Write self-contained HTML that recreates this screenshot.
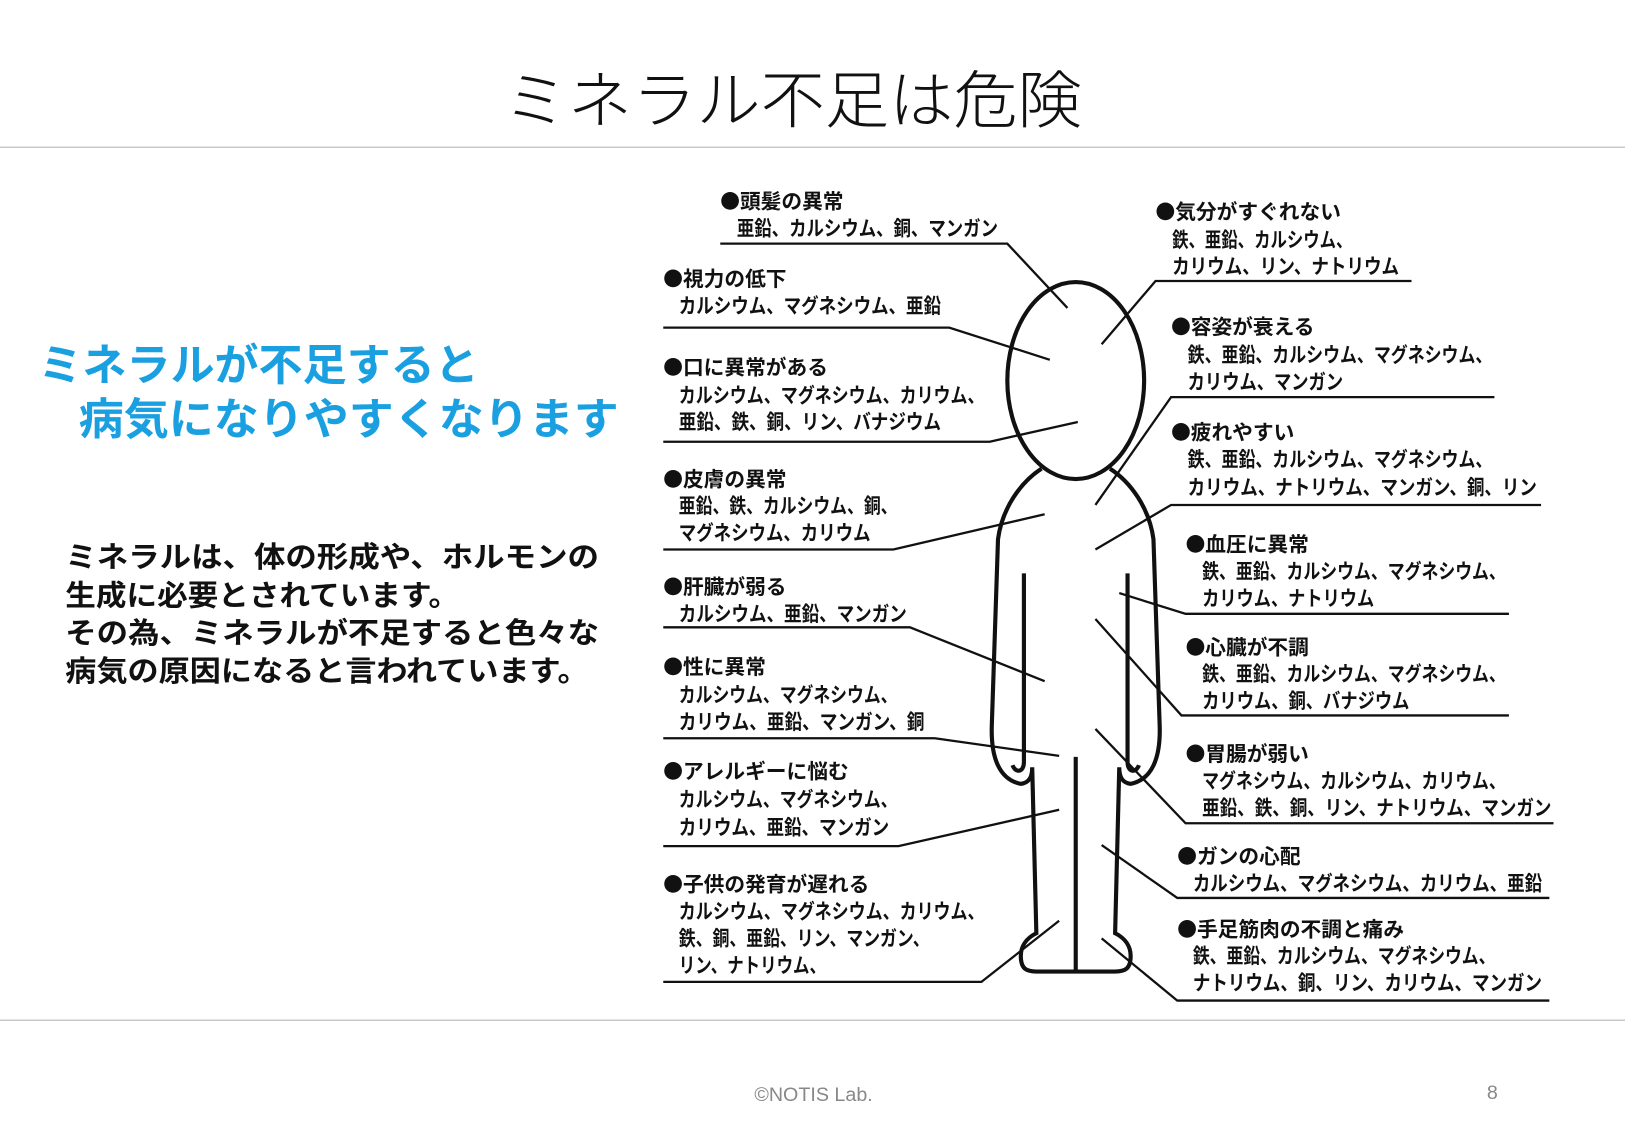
<!DOCTYPE html>
<html><head><meta charset="utf-8"><style>
html,body{margin:0;padding:0;background:#fff;}
svg{display:block;}
text{font-family:"Liberation Sans","Noto Sans CJK JP",sans-serif;}
.l{font-size:20px;font-weight:bold;fill:#111;}
.b{font-family:"Noto Sans CJK JP",sans-serif;font-size:19px;}
</style></head><body>
<svg width="1625" height="1125" viewBox="0 0 1568 1085" preserveAspectRatio="none" xmlns="http://www.w3.org/2000/svg">
<rect width="1568" height="1085" fill="#fff"/>
<text x="765" y="118" text-anchor="middle" font-size="60" fill="#111" textLength="558" lengthAdjust="spacingAndGlyphs" style="font-family:'Noto Sans CJK JP',sans-serif;font-weight:300">ミネラル不足は危険</text>
<line x1="0" y1="142" x2="1568" y2="142" stroke="#c8c8c8" stroke-width="1.5"/>
<line x1="0" y1="984" x2="1568" y2="984" stroke="#c8c8c8" stroke-width="1.5"/>
<text x="785" y="1062" text-anchor="middle" font-size="19" fill="#888">©NOTIS Lab.</text>
<text x="1440" y="1060" text-anchor="middle" font-size="19" fill="#888">8</text>

<g font-weight="bold" fill="#1aa0e0" font-size="42">
<text x="37" y="367" textLength="425" lengthAdjust="spacingAndGlyphs">ミネラルが不足すると</text>
<text x="76" y="419" textLength="521" lengthAdjust="spacingAndGlyphs">病気になりやすくなります</text>
</g>
<g font-weight="bold" fill="#111" font-size="28">
<text x="63" y="547" textLength="515" lengthAdjust="spacingAndGlyphs">ミネラルは、体の形成や、ホルモンの</text>
<text x="63" y="584" textLength="380" lengthAdjust="spacingAndGlyphs">生成に必要とされています。</text>
<text x="63" y="620" textLength="515" lengthAdjust="spacingAndGlyphs">その為、ミネラルが不足すると色々な</text>
<text x="63" y="657" textLength="505" lengthAdjust="spacingAndGlyphs">病気の原因になると言われています。</text>
</g>

<g fill="none" stroke="#111" stroke-width="4">
<ellipse cx="1038" cy="367" rx="66" ry="95"/>
<path d="M1005,452 C985,465 967,490 963,520 L957,700 C956,732 965,752 985,756 C994,755 996,748 996,740 L1000,900 C990,905 985,913 985,922 C985,934 990,937 1000,937 L1076,937 C1086,937 1091,934 1091,922 C1091,913 1086,905 1076,900 L1080,740 C1080,748 1082,755 1091,756 C1111,752 1120,732 1119,700 L1113,520 C1109,490 1091,465 1071,452"/>
<path d="M988,553 L988,735 C988,745 980,746 977,738"/>
<path d="M1088,553 L1088,735 C1088,745 1096,746 1099,738"/>
<line x1="1038" y1="730" x2="1038" y2="935"/>
</g>

<g fill="none" stroke="#111" stroke-width="2.2">
<polyline points="695,235 972,235 1030,297"/>
<polyline points="640,316 916,316 1013,347"/>
<polyline points="640,426 955,426 1040,407"/>
<polyline points="640,530 862,530 1008,496"/>
<polyline points="640,605 878,605 1008,657"/>
<polyline points="640,712 902,712 1022,729"/>
<polyline points="640,816 867,816 1022,781"/>
<polyline points="640,947 947,947 1022,888"/>
<polyline points="1362,271 1115,271 1063,332"/>
<polyline points="1442,383 1130,383 1057,487"/>
<polyline points="1487,487 1130,487 1057,530"/>
<polyline points="1456,592 1144,592 1080,572"/>
<polyline points="1456,690 1140,690 1057,597"/>
<polyline points="1499,794 1144,794 1057,703"/>
<polyline points="1495,866 1136,866 1063,815"/>
<polyline points="1495,965 1136,965 1063,905"/>
</g>

<g class="l">
<text x="695" y="201"><tspan class="b">●</tspan>頭髪の異常</text>
<text x="711" y="227" textLength="252" lengthAdjust="spacingAndGlyphs">亜鉛、カルシウム、銅、マンガン</text>
<text x="640" y="276"><tspan class="b">●</tspan>視力の低下</text>
<text x="655" y="302" textLength="253" lengthAdjust="spacingAndGlyphs">カルシウム、マグネシウム、亜鉛</text>
<text x="640" y="361"><tspan class="b">●</tspan>口に異常がある</text>
<text x="655" y="388" textLength="295" lengthAdjust="spacingAndGlyphs">カルシウム、マグネシウム、カリウム、</text>
<text x="655" y="414" textLength="253" lengthAdjust="spacingAndGlyphs">亜鉛、鉄、銅、リン、バナジウム</text>
<text x="640" y="469"><tspan class="b">●</tspan>皮膚の異常</text>
<text x="655" y="495" textLength="211" lengthAdjust="spacingAndGlyphs">亜鉛、鉄、カルシウム、銅、</text>
<text x="655" y="521" textLength="185" lengthAdjust="spacingAndGlyphs">マグネシウム、カリウム</text>
<text x="640" y="573"><tspan class="b">●</tspan>肝臓が弱る</text>
<text x="655" y="599" textLength="220" lengthAdjust="spacingAndGlyphs">カルシウム、亜鉛、マンガン</text>
<text x="640" y="650"><tspan class="b">●</tspan>性に異常</text>
<text x="655" y="677" textLength="211" lengthAdjust="spacingAndGlyphs">カルシウム、マグネシウム、</text>
<text x="655" y="703" textLength="237" lengthAdjust="spacingAndGlyphs">カリウム、亜鉛、マンガン、銅</text>
<text x="640" y="751"><tspan class="b">●</tspan>アレルギーに悩む</text>
<text x="655" y="778" textLength="211" lengthAdjust="spacingAndGlyphs">カルシウム、マグネシウム、</text>
<text x="655" y="805" textLength="203" lengthAdjust="spacingAndGlyphs">カリウム、亜鉛、マンガン</text>
<text x="640" y="860"><tspan class="b">●</tspan>子供の発育が遅れる</text>
<text x="655" y="886" textLength="295" lengthAdjust="spacingAndGlyphs">カルシウム、マグネシウム、カリウム、</text>
<text x="655" y="912" textLength="242" lengthAdjust="spacingAndGlyphs">鉄、銅、亜鉛、リン、マンガン、</text>
<text x="655" y="938" textLength="142" lengthAdjust="spacingAndGlyphs">リン、ナトリウム、</text>

<text x="1115" y="211"><tspan class="b">●</tspan>気分がすぐれない</text>
<text x="1131" y="238" textLength="174" lengthAdjust="spacingAndGlyphs">鉄、亜鉛、カルシウム、</text>
<text x="1131" y="264" textLength="219" lengthAdjust="spacingAndGlyphs">カリウム、リン、ナトリウム</text>
<text x="1130" y="322"><tspan class="b">●</tspan>容姿が衰える</text>
<text x="1146" y="349" textLength="294" lengthAdjust="spacingAndGlyphs">鉄、亜鉛、カルシウム、マグネシウム、</text>
<text x="1146" y="375" textLength="150" lengthAdjust="spacingAndGlyphs">カリウム、マンガン</text>
<text x="1130" y="424"><tspan class="b">●</tspan>疲れやすい</text>
<text x="1146" y="450" textLength="294" lengthAdjust="spacingAndGlyphs">鉄、亜鉛、カルシウム、マグネシウム、</text>
<text x="1146" y="477" textLength="337" lengthAdjust="spacingAndGlyphs">カリウム、ナトリウム、マンガン、銅、リン</text>
<text x="1144" y="532"><tspan class="b">●</tspan>血圧に異常</text>
<text x="1160" y="558" textLength="293" lengthAdjust="spacingAndGlyphs">鉄、亜鉛、カルシウム、マグネシウム、</text>
<text x="1160" y="584" textLength="166" lengthAdjust="spacingAndGlyphs">カリウム、ナトリウム</text>
<text x="1144" y="631"><tspan class="b">●</tspan>心臓が不調</text>
<text x="1160" y="657" textLength="293" lengthAdjust="spacingAndGlyphs">鉄、亜鉛、カルシウム、マグネシウム、</text>
<text x="1160" y="683" textLength="200" lengthAdjust="spacingAndGlyphs">カリウム、銅、バナジウム</text>
<text x="1144" y="734"><tspan class="b">●</tspan>胃腸が弱い</text>
<text x="1160" y="760" textLength="293" lengthAdjust="spacingAndGlyphs">マグネシウム、カルシウム、カリウム、</text>
<text x="1160" y="786" textLength="337" lengthAdjust="spacingAndGlyphs">亜鉛、鉄、銅、リン、ナトリウム、マンガン</text>
<text x="1136" y="833"><tspan class="b">●</tspan>ガンの心配</text>
<text x="1151" y="859" textLength="337" lengthAdjust="spacingAndGlyphs">カルシウム、マグネシウム、カリウム、亜鉛</text>
<text x="1136" y="903"><tspan class="b">●</tspan>手足筋肉の不調と痛み</text>
<text x="1151" y="929" textLength="292" lengthAdjust="spacingAndGlyphs">鉄、亜鉛、カルシウム、マグネシウム、</text>
<text x="1151" y="955" textLength="337" lengthAdjust="spacingAndGlyphs">ナトリウム、銅、リン、カリウム、マンガン</text>
</g>
</svg>
</body></html>
